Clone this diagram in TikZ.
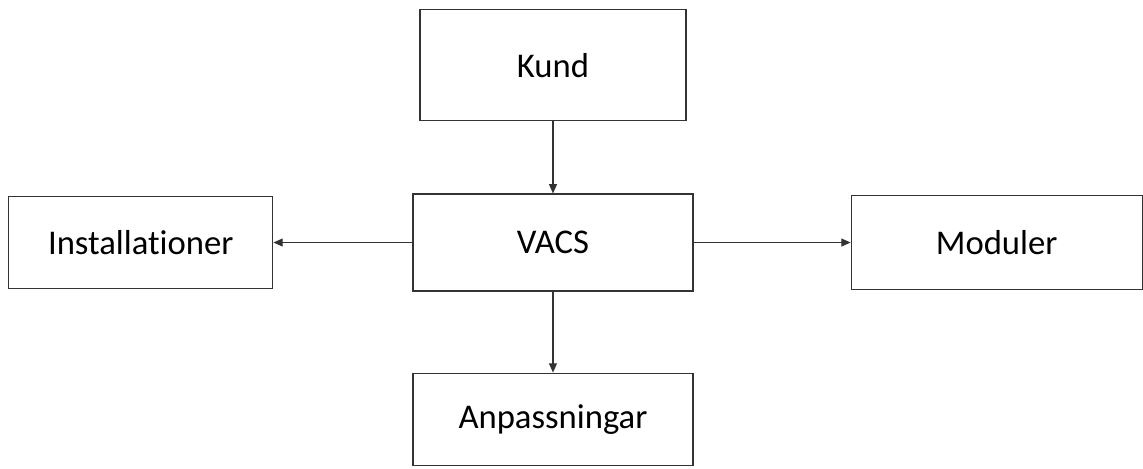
\documentclass[tikz,border=0pt]{standalone}
\usepackage{fontspec}
\setmainfont[Ligatures=NoCommon]{Carlito}
\usepackage{xcolor}
\usetikzlibrary{arrows.meta, positioning}
\definecolor{edgegray}{HTML}{333333}
\tikzset{
  block/.style={rectangle, draw=edgegray, line width=0.9pt, fill=white,
    align=center, font=\fontsize{26}{31}\selectfont,
    minimum width=210pt, minimum height=70pt, inner sep=0pt},
  ar/.style={-{Triangle[length=7pt, width=6pt]}, line width=0.8pt, edgegray},
}

\begin{document}
\begin{tikzpicture}
  \useasboundingbox (-414.75pt,-169.1pt) rectangle (442.5pt,181.9pt);
  \node[block, minimum height=72.75pt] (vacs) {VACS};
  \node[block, minimum width=199.5pt, minimum height=83.25pt, above=54pt of vacs] (kund) {Kund};
  \node[block, minimum width=198pt, minimum height=69pt, left=104.25pt of vacs] (inst) {Installationer};
  \node[block, minimum width=218.25pt, minimum height=70.5pt, right=117.75pt of vacs] (mod) {Moduler};
  \node[block, minimum height=69pt, below=60.75pt of vacs] (anp) {Anpassningar};

  \draw[ar] (kund) -- (vacs);
  \draw[ar] (vacs) -- (inst);
  \draw[ar] (vacs) -- (mod);
  \draw[ar] (vacs) -- (anp);
\end{tikzpicture}
\end{document}
